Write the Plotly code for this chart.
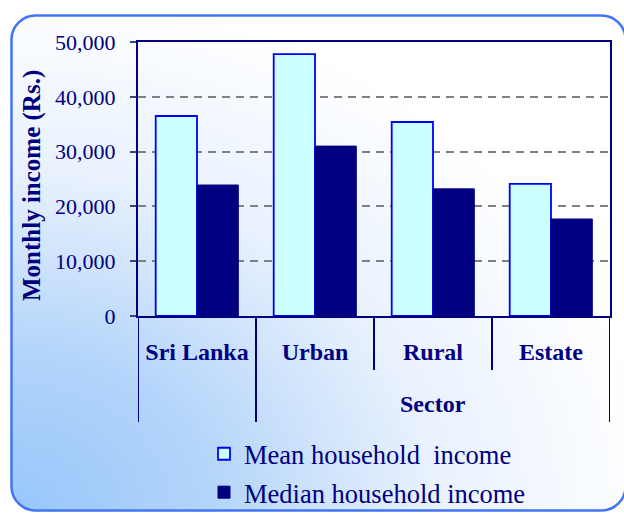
import base64
import plotly.graph_objects as go

# ---- data ----
categories = ["Sri Lanka", "Urban", "Rural", "Estate"]
mean_income = [36500, 47800, 35400, 24100]
median_income = [23900, 31000, 23200, 17700]
group_label = "Sector"
series_names = ["Mean household\u00a0 income", "Median household income"]
y_title = "Monthly income (Rs.)"
y_ticks = [0, 10000, 20000, 30000, 40000, 50000]

NAVY = "#000080"
SERIF = "Liberation Serif, Times New Roman, serif"

# background panel (rounded, gradient) as an inline SVG image
W_PX, H_PX = 617, 498
svg = f'''<svg xmlns="http://www.w3.org/2000/svg" width="{W_PX}" height="{H_PX}" viewBox="0 0 {W_PX} {H_PX}">
<defs><radialGradient id="g" cx="0" cy="1" r="1.05" gradientUnits="objectBoundingBox">
<stop offset="0" stop-color="#98C6FB"/>
<stop offset="0.3" stop-color="#B2D4FA"/>
<stop offset="0.65" stop-color="#E8F1FD"/>
<stop offset="1" stop-color="#FFFFFF"/>
</radialGradient></defs>
<rect x="1.5" y="1.5" width="{W_PX-3}" height="{H_PX-3}" rx="24" ry="24" fill="url(#g)" stroke="#4275F4" stroke-width="2.5"/>
</svg>'''
svg_uri = "data:image/svg+xml;base64," + base64.b64encode(svg.encode()).decode()

fig = go.Figure()
fig.add_trace(go.Bar(
    x=categories, y=mean_income, name=series_names[0], legendgroup="a",
    marker=dict(color="#CCFFFF", line=dict(color="#0000FF", width=1.8)),
))
fig.add_trace(go.Bar(
    x=categories, y=median_income, name=series_names[1], legendgroup="b",
    marker=dict(color=NAVY, line=dict(color=NAVY, width=1)),
))

# plot area in pixels: x 138..610, y 42..316
L, R, T, B = 138, 14, 42, 197
pw, ph = 624 - L - R, 513 - T - B

def px_x(p):
    return (p - L) / pw

def px_y(p):
    return (T + ph - p) / ph

fig.add_layout_image(dict(
    source=svg_uri, xref="paper", yref="paper",
    x=px_x(10), y=px_y(14), sizex=W_PX / pw, sizey=H_PX / ph,
    xanchor="left", yanchor="top", sizing="stretch", layer="below",
))

# category dividers below the axis
shapes = []
n = len(categories)
for i in range(n + 1):
    pos = i - 0.5
    long_line = (i == 0 or i == 1 or i == n)
    shapes.append(dict(
        type="line", xref="x", yref="paper", x0=pos, x1=pos,
        y0=0, y1=px_y(422) if long_line else px_y(370),
        line=dict(color=NAVY, width=2),
    ))

fig.update_layout(
    width=624, height=513, autosize=False,
    margin=dict(l=L, r=R, t=T, b=B, pad=0, autoexpand=False),
    paper_bgcolor="white", plot_bgcolor="rgba(0,0,0,0)",
    barmode="group", bargap=0.3, bargroupgap=0,
    shapes=shapes,
    showlegend=True,
    legend=dict(
        x=px_x(204), y=px_y(430), xanchor="left", yanchor="top",
        bgcolor="rgba(0,0,0,0)", borderwidth=0,
        font=dict(family=SERIF, size=26.5, color=NAVY),
        traceorder="grouped", tracegroupgap=1,
    ),
    xaxis=dict(
        type="category", range=[-0.5, n - 0.5], automargin=False,
        showline=True, linecolor=NAVY, linewidth=2, mirror=True,
        ticks="outside", ticklen=13, tickcolor="rgba(0,0,0,0)",
        tickfont=dict(family=SERIF, size=24, color=NAVY, weight="bold"),
        showgrid=False,
    ),
    yaxis=dict(
        range=[0, 50000], tickvals=y_ticks, tickformat=",d", automargin=False,
        showline=True, linecolor=NAVY, linewidth=2, mirror=True,
        ticks="outside", ticklen=6, tickcolor="#404080", tickwidth=2,
        ticklabelstandoff=10,
        tickfont=dict(family=SERIF, size=22, color=NAVY),
        showgrid=True, gridcolor="#808080", gridwidth=1.5, griddash="8px,6px",
        zeroline=False,
    ),
    annotations=[
        dict(text=f"<b>{y_title}</b>", xref="paper", yref="paper",
             x=px_x(32), y=px_y(186), textangle=-90, showarrow=False,
             xanchor="center", yanchor="middle",
             font=dict(family=SERIF, size=25, color=NAVY)),
        dict(text=f"<b>{group_label}</b>", xref="x", yref="paper",
             x=(1 + n - 1) / 2, y=px_y(404), showarrow=False,
             xanchor="center", yanchor="middle",
             font=dict(family=SERIF, size=24, color=NAVY)),
    ],
)

fig.write_html("out.html", config={"displayModeBar": False},
               post_script="document.body.style.margin='0';")
